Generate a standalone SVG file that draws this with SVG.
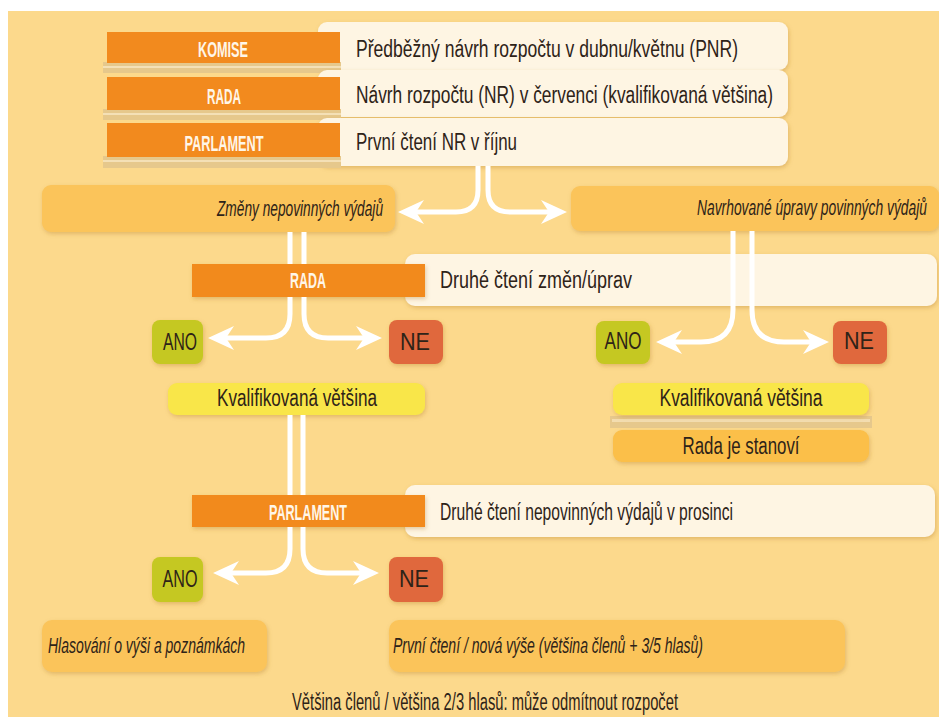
<svg xmlns="http://www.w3.org/2000/svg" width="939" height="717" viewBox="0 0 939 717">
<defs>
<filter id="sh" x="-10%" y="-30%" width="125%" height="170%"><feDropShadow dx="1" dy="2" stdDeviation="2" flood-color="#B07A2A" flood-opacity="0.35"/></filter>
<marker id="ah" markerUnits="userSpaceOnUse" markerWidth="28" markerHeight="26" refX="10" refY="13" orient="auto"><path d="M26,13 L0,1 L8,13 L0,25 Z" fill="#fff"/></marker>
</defs>
<style>
.bg{fill:#FCD98C}
.lab{fill:#F28A1E}
.strip{fill:#E6C88C}
.pan{fill:#FEF5E3}
.box{fill:#FBC45A}
.yel{fill:#F9E648}
.rada{fill:#FBBF48}
.ano{fill:#C5C822}
.ne{fill:#E0683D}
.lt{font-family:"Liberation Sans",Arial,sans-serif;font-weight:bold;font-size:22px;fill:#FFF6E8;text-anchor:middle}
.t{font-family:"Liberation Sans",Arial,sans-serif;font-size:23px;fill:#2E2318}
.it{font-style:italic;font-size:22px}
.m{text-anchor:middle}
.c{fill:none;stroke:#fff;stroke-width:5}
.arr{marker-end:url(#ah)}
</style>
<rect x="0" y="0" width="939" height="717" fill="#fff"/>
<rect class="bg" x="8" y="11" width="931" height="706"/>

<g id="n-komise">
<rect class="pan" x="318" y="22" width="470" height="48" rx="9" filter="url(#sh)"/>
<rect class="strip" x="103" y="62" width="238" height="11"/>
<rect x="103" y="66" width="238" height="2" fill="#F4E0B6"/>
<rect class="lab" x="107" y="32" width="233" height="31"/>
<text class="lt" x="223" y="57" textLength="50" lengthAdjust="spacingAndGlyphs">KOMISE</text>
<text class="t" x="356" y="57" textLength="382" lengthAdjust="spacingAndGlyphs">Předběžný návrh rozpočtu v dubnu/květnu (PNR)</text>
</g>
<g id="n-rada1">
<rect class="pan" x="318" y="70" width="470" height="47" rx="9" filter="url(#sh)"/>
<rect class="strip" x="103" y="109" width="238" height="11"/>
<rect x="103" y="113" width="238" height="2" fill="#F4E0B6"/>
<rect class="lab" x="107" y="77" width="233" height="33"/>
<text class="lt" x="224" y="104" textLength="34" lengthAdjust="spacingAndGlyphs">RADA</text>
<text class="t" x="356" y="103" textLength="417" lengthAdjust="spacingAndGlyphs">Návrh rozpočtu (NR) v červenci (kvalifikovaná většina)</text>
</g>
<g id="n-parl1">
<rect class="pan" x="318" y="118" width="470" height="48" rx="9" filter="url(#sh)"/>
<rect class="strip" x="103" y="156" width="238" height="12"/>
<rect x="103" y="160" width="238" height="2" fill="#F4E0B6"/>
<rect class="lab" x="107" y="123" width="233" height="34"/>
<text class="lt" x="224" y="151" textLength="79" lengthAdjust="spacingAndGlyphs">PARLAMENT</text>
<text class="t" x="356" y="150" textLength="161" lengthAdjust="spacingAndGlyphs">První čtení NR v říjnu</text>
</g>

<g id="n-zmeny">
<rect class="box" x="42" y="185" width="353" height="47" rx="9" filter="url(#sh)"/>
<text class="t it" x="217" y="216" textLength="166" lengthAdjust="spacingAndGlyphs">Změny nepovinných výdajů</text>
</g>
<g id="n-navrh">
<rect class="box" x="571" y="186" width="368" height="45" rx="9" filter="url(#sh)"/>
<text class="t it" x="697" y="215" textLength="230" lengthAdjust="spacingAndGlyphs">Navrhované úpravy povinných výdajů</text>
</g>

<g id="n-rada2">
<rect class="pan" x="405" y="254" width="532" height="52" rx="10" filter="url(#sh)"/>
<rect class="lab" x="192" y="264" width="233" height="33" filter="url(#sh)"/>
<text class="lt" x="308" y="288" textLength="36" lengthAdjust="spacingAndGlyphs">RADA</text>
<text class="t" x="440" y="288" textLength="192" lengthAdjust="spacingAndGlyphs">Druhé čtení změn/úprav</text>
</g>

<g id="n-ano1">
<rect class="ano" x="152" y="320" width="51" height="44" rx="8" filter="url(#sh)"/>
<text class="t m" x="180" y="350" textLength="34" lengthAdjust="spacingAndGlyphs">ANO</text>
</g>
<g id="n-ne1">
<rect class="ne" x="389" y="320" width="54" height="44" rx="8" filter="url(#sh)"/>
<text class="t m" x="415" y="350" textLength="30" lengthAdjust="spacingAndGlyphs">NE</text>
</g>
<g id="n-ano2">
<rect class="ano" x="596" y="321" width="54" height="43" rx="8" filter="url(#sh)"/>
<text class="t m" x="623" y="349" textLength="37" lengthAdjust="spacingAndGlyphs">ANO</text>
</g>
<g id="n-ne2">
<rect class="ne" x="833" y="321" width="54" height="43" rx="8" filter="url(#sh)"/>
<text class="t m" x="859" y="349" textLength="30" lengthAdjust="spacingAndGlyphs">NE</text>
</g>

<g id="n-kval1">
<rect class="yel" x="168" y="383" width="257" height="32" rx="9" filter="url(#sh)"/>
<text class="t m" x="297" y="406" textLength="160" lengthAdjust="spacingAndGlyphs">Kvalifikovaná většina</text>
</g>
<g id="n-kval2">
<rect class="strip" x="610" y="416" width="262" height="12"/>
<rect x="612" y="419" width="258" height="3" fill="#F3DDB0"/>
<rect class="yel" x="613" y="383" width="256" height="32" rx="9" filter="url(#sh)"/>
<text class="t m" x="741" y="406" textLength="163" lengthAdjust="spacingAndGlyphs">Kvalifikovaná většina</text>
</g>
<g id="n-stanovi">
<rect class="rada" x="613" y="430" width="256" height="32" rx="9" filter="url(#sh)"/>
<text class="t m" x="741" y="454" textLength="117" lengthAdjust="spacingAndGlyphs">Rada je stanoví</text>
</g>

<g id="n-parl2">
<rect class="pan" x="405" y="485" width="530" height="52" rx="10" filter="url(#sh)"/>
<rect class="lab" x="192" y="495" width="233" height="32" filter="url(#sh)"/>
<text class="lt" x="308" y="520" textLength="78" lengthAdjust="spacingAndGlyphs">PARLAMENT</text>
<text class="t" x="440" y="520" textLength="293" lengthAdjust="spacingAndGlyphs">Druhé čtení nepovinných výdajů v prosinci</text>
</g>

<g id="n-ano3">
<rect class="ano" x="152" y="557" width="51" height="45" rx="8" filter="url(#sh)"/>
<text class="t m" x="180" y="587" textLength="35" lengthAdjust="spacingAndGlyphs">ANO</text>
</g>
<g id="n-ne3">
<rect class="ne" x="389" y="557" width="54" height="45" rx="8" filter="url(#sh)"/>
<text class="t m" x="414" y="587" textLength="30" lengthAdjust="spacingAndGlyphs">NE</text>
</g>

<g id="n-hlas">
<rect class="box" x="42" y="620" width="225" height="52" rx="10" filter="url(#sh)"/>
<text class="t it" x="48" y="653" textLength="197" lengthAdjust="spacingAndGlyphs">Hlasování o výši a poznámkách</text>
</g>
<g id="n-prvni">
<rect class="box" x="389" y="620" width="456" height="52" rx="10" filter="url(#sh)"/>
<text class="t it" x="393" y="653" textLength="310" lengthAdjust="spacingAndGlyphs">První čtení / nová výše (většina členů + 3/5 hlasů)</text>
</g>

<g id="n-foot">
<text class="t" x="292" y="710" font-size="21" textLength="386" lengthAdjust="spacingAndGlyphs">Většina členů / většina 2/3 hlasů: může odmítnout rozpočet</text>
</g>

<g id="connectors">
<path class="c arr" d="M478,166 L478,190 Q478,212 456,212 L414,212"/>
<path class="c arr" d="M488,166 L488,190 Q488,212 510,212 L551,212"/>
<path class="c" d="M290,232 V264 M304,232 V264"/>
<path class="c arr" d="M290,297 L290,314 Q290,338 266,338 L224,338"/>
<path class="c arr" d="M304,297 L304,314 Q304,338 328,338 L366,338"/>
<path class="c arr" d="M733,231 L733,310 Q733,342 701,342 L672,342"/>
<path class="c arr" d="M752,231 L752,310 Q752,342 784,342 L813,342"/>
<path class="c" d="M290,415 V495 M303,415 V495"/>
<path class="c arr" d="M290,527 L290,549 Q290,573 266,573 L229,573"/>
<path class="c arr" d="M303,527 L303,549 Q303,573 327,573 L363,573"/>
</g>
</svg>
